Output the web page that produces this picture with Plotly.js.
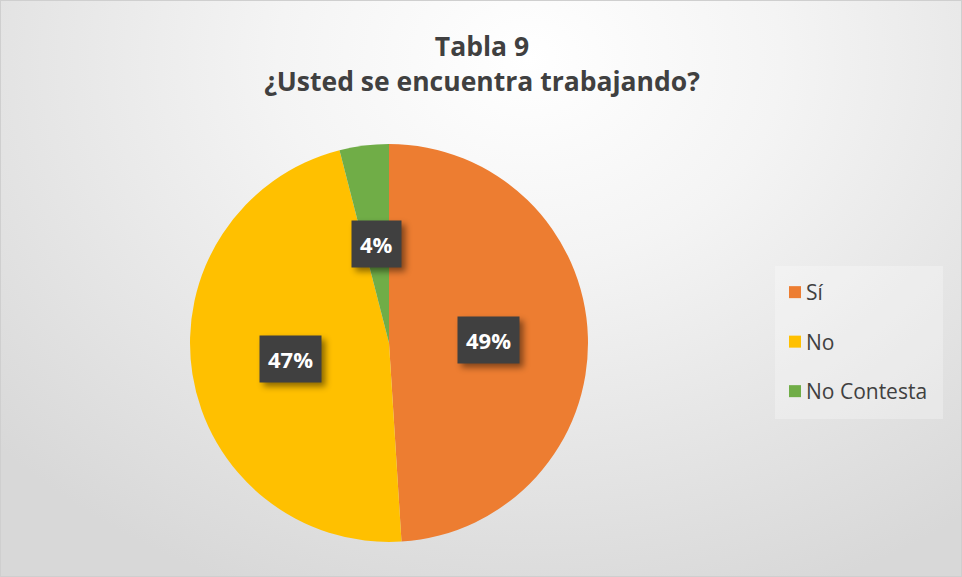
<!DOCTYPE html>
<html>
<head>
<meta charset="utf-8">
<script src="https://cdn.plot.ly/plotly-3.0.1.min.js"></script>
<style>
  html, body { margin: 0; padding: 0; }
  #wrap {
    position: relative; width: 962px; height: 577px; box-sizing: border-box;
    border: 1.5px solid #cfcfcf;
    background: radial-gradient(ellipse 75% 100% at 55% 10%, #ffffff 0%, #f4f4f4 35%, #d8d8d8 100%);
  }
  #chart { position: absolute; left: 0; top: 0; width: 962px; height: 577px; }
  #chart .annotation rect.bg { filter: drop-shadow(4px 4px 3px rgba(0,0,0,0.45)); }
</style>
</head>
<body>
<div id="wrap"><div id="chart"></div></div>
<script>
const categories = ['Sí', 'No', 'No Contesta'];
const values = [49, 47, 4];
const colors = ['#ED7D31', '#FFC000', '#70AD47'];
const titleLines = ['Tabla 9', '¿Usted se encuentra trabajando?'];

const W = 962, H = 577;
// pie domain in pixels
const cxPx = 388, cyPx = 342, R = 199;
const domX = [(cxPx - R) / W, (cxPx + R) / W];
const domY = [(H - cyPx - R) / H, (H - cyPx + R) / H];

const total = values.reduce((a, b) => a + b, 0);
const annotations = [];
let cum = 0;
values.forEach((v, i) => {
  const mid = (cum + v / 2) / total * 2 * Math.PI;
  cum += v;
  const rf = 0.5;
  const px = cxPx + rf * R * Math.sin(mid);
  const py = cyPx - rf * R * Math.cos(mid);
  const pct = Math.round(v / total * 100) + '%';
  annotations.push({
    x: px / W, y: (H - py) / H, xref: 'paper', yref: 'paper',
    text: pct, showarrow: false,
    font: { family: 'Open Sans, sans-serif', size: 22, color: '#ffffff', weight: 'bold' },
    bgcolor: '#404040', borderpad: 8, xanchor: 'center', yanchor: 'middle'
  });
});

const data = [{
  type: 'pie',
  labels: categories,
  values: values,
  marker: { colors: colors, line: { width: 0 } },
  sort: false,
  direction: 'clockwise',
  rotation: 0,
  textinfo: 'none',
  hoverinfo: 'label+percent',
  domain: { x: domX, y: domY }
}];

const layout = {
  width: W, height: H,
  margin: { l: 0, r: 0, t: 0, b: 0 },
  paper_bgcolor: 'rgba(0,0,0,0)',
  plot_bgcolor: 'rgba(0,0,0,0)',
  title: {
    text: titleLines.join('<br>'),
    font: { family: 'Open Sans, sans-serif', size: 26.5, color: '#404040', weight: 'bold' },
    x: 0.5, xanchor: 'center', y: 0.904, yanchor: 'top'
  },
  showlegend: true,
  legend: {
    x: 774 / W, y: (H - 265) / H, xanchor: 'left', yanchor: 'top',
    bgcolor: 'rgba(255,255,255,0.28)',
    font: { family: 'Open Sans, sans-serif', size: 21, color: '#404040' },
    itemclick: false
  },
  annotations: annotations
};

Plotly.newPlot('chart', data, layout, { displayModeBar: false, staticPlot: true }).then(gd => {
  // Excel-like legend spacing
  const leg = gd.querySelector('g.legend');
  if (!leg) return;
  const sb = leg.querySelector('g.scrollbox');
  if (sb) sb.removeAttribute('clip-path');
  const items = leg.querySelectorAll('g.traces');
  if (!items.length) return;
  const m = /translate\(\s*([-\d.]+)[ ,]+([-\d.]+)/.exec(items[0].getAttribute('transform') || '');
  const x0 = m ? parseFloat(m[1]) : 0;
  const y0 = m ? parseFloat(m[2]) : 0;
  items.forEach((it, i) => {
    it.setAttribute('transform', `translate(${x0},${y0 + 6 + i * 49.5})`);
    const t = it.querySelector('text.legendtext');
    if (t) t.setAttribute('x', 31);
  });
  const bg = leg.querySelector('rect.bg');
  if (bg) { bg.setAttribute('width', 168); bg.setAttribute('height', 153); }
});
</script>
</body>
</html>
